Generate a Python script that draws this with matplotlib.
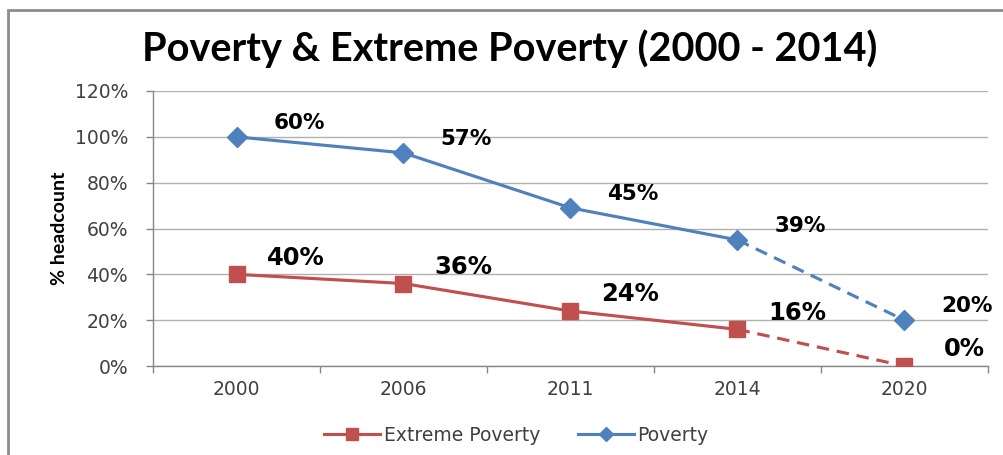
import matplotlib.pyplot as plt
from matplotlib.patches import Rectangle

# data (stacked line chart: poverty is drawn on top of extreme)
years = ['2000', '2006', '2011', '2014', '2020']
extreme = [40, 36, 24, 16, 0]
poverty = [60, 57, 45, 39, 20]
y_ticks = [0, 20, 40, 60, 80, 100, 120]

blue = '#4F81BD'
red = '#C0504D'
grey_txt = '#404040'

x = list(range(len(years)))
poverty_top = [e + p for e, p in zip(extreme, poverty)]

fig = plt.figure(figsize=(10.04, 4.55), dpi=100)
ax = fig.add_axes([0.1524, 0.1956, 0.8316, 0.6044])

# solid part (actuals) and dashed part (projection to 2020)
ax.plot(x[:4], extreme[:4], color=red, lw=2.25, marker='s', ms=12,
        label='Extreme Poverty', zorder=3)
ax.plot(x[3:], extreme[3:], color=red, lw=2.25, ls=(0, (4, 2.5)), zorder=2)
ax.plot(x[4:], extreme[4:], color=red, marker='s', ms=12, ls='none', zorder=3)

ax.plot(x[:4], poverty_top[:4], color=blue, lw=2.25, marker='D', ms=10,
        label='Poverty', zorder=3)
ax.plot(x[3:], poverty_top[3:], color=blue, lw=2.25, ls=(0, (4, 2.5)), zorder=2)
ax.plot(x[4:], poverty_top[4:], color=blue, marker='D', ms=10, ls='none', zorder=3)

# data labels
for xi, yi, v in zip(x, poverty_top, poverty):
    ax.annotate(f'{v}%', (xi, yi), xytext=(45, 10), textcoords='offset points',
                ha='center', va='center', fontsize=15.5, fontweight='bold',
                color='black')
for xi, yi, v in zip(x, extreme, extreme):
    ax.annotate(f'{v}%', (xi, yi), xytext=(43, 12), textcoords='offset points',
                ha='center', va='center', fontsize=17.5, fontweight='bold',
                color='black')

ax.set_xlim(-0.5, 4.5)
ax.set_ylim(0, 120)
ax.set_yticks(y_ticks)
ax.set_yticklabels([f'{t}%' for t in y_ticks])
ax.set_xticks(x)
ax.set_xticklabels(years)
ax.set_xticks([i - 0.5 for i in range(len(years) + 1)], minor=True)

ax.tick_params(axis='y', direction='out', length=5, width=1, color='#868686',
               pad=13, labelsize=13.5, labelcolor=grey_txt)
ax.tick_params(axis='x', which='major', length=0, pad=10, labelsize=13.5,
               labelcolor=grey_txt)
ax.tick_params(axis='x', which='minor', direction='out', length=5, width=1,
               color='#868686')

ax.grid(axis='y', color='#b0b0b0', lw=1)
ax.set_axisbelow(True)
for s in ['top', 'right']:
    ax.spines[s].set_visible(False)
for s in ['left', 'bottom']:
    ax.spines[s].set_color('#868686')
    ax.spines[s].set_linewidth(1)

ax.set_ylabel('% headcount', fontsize=14, fontweight='bold', family='Lato',
              labelpad=5)

fig.text(0.508, 0.893, 'Poverty & Extreme Poverty (2000 - 2014)', ha='center',
         va='center', fontsize=28.5, fontweight='bold', family='Lato')

leg = ax.legend(loc='upper center', bbox_to_anchor=(0.435, -0.155), ncol=2,
                frameon=False, fontsize=13.5, markerscale=0.7,
                handlelength=3.0, handletextpad=0.2, columnspacing=2.0)
for t in leg.get_texts():
    t.set_color(grey_txt)

# outer chart border (left and top visible)
fig.patches.append(Rectangle((0.008, -0.5), 2, 0.5 + 0.978, transform=fig.transFigure,
                             fill=False, edgecolor='#8c8c8c', lw=2))

fig.savefig('out.png', dpi=100)
